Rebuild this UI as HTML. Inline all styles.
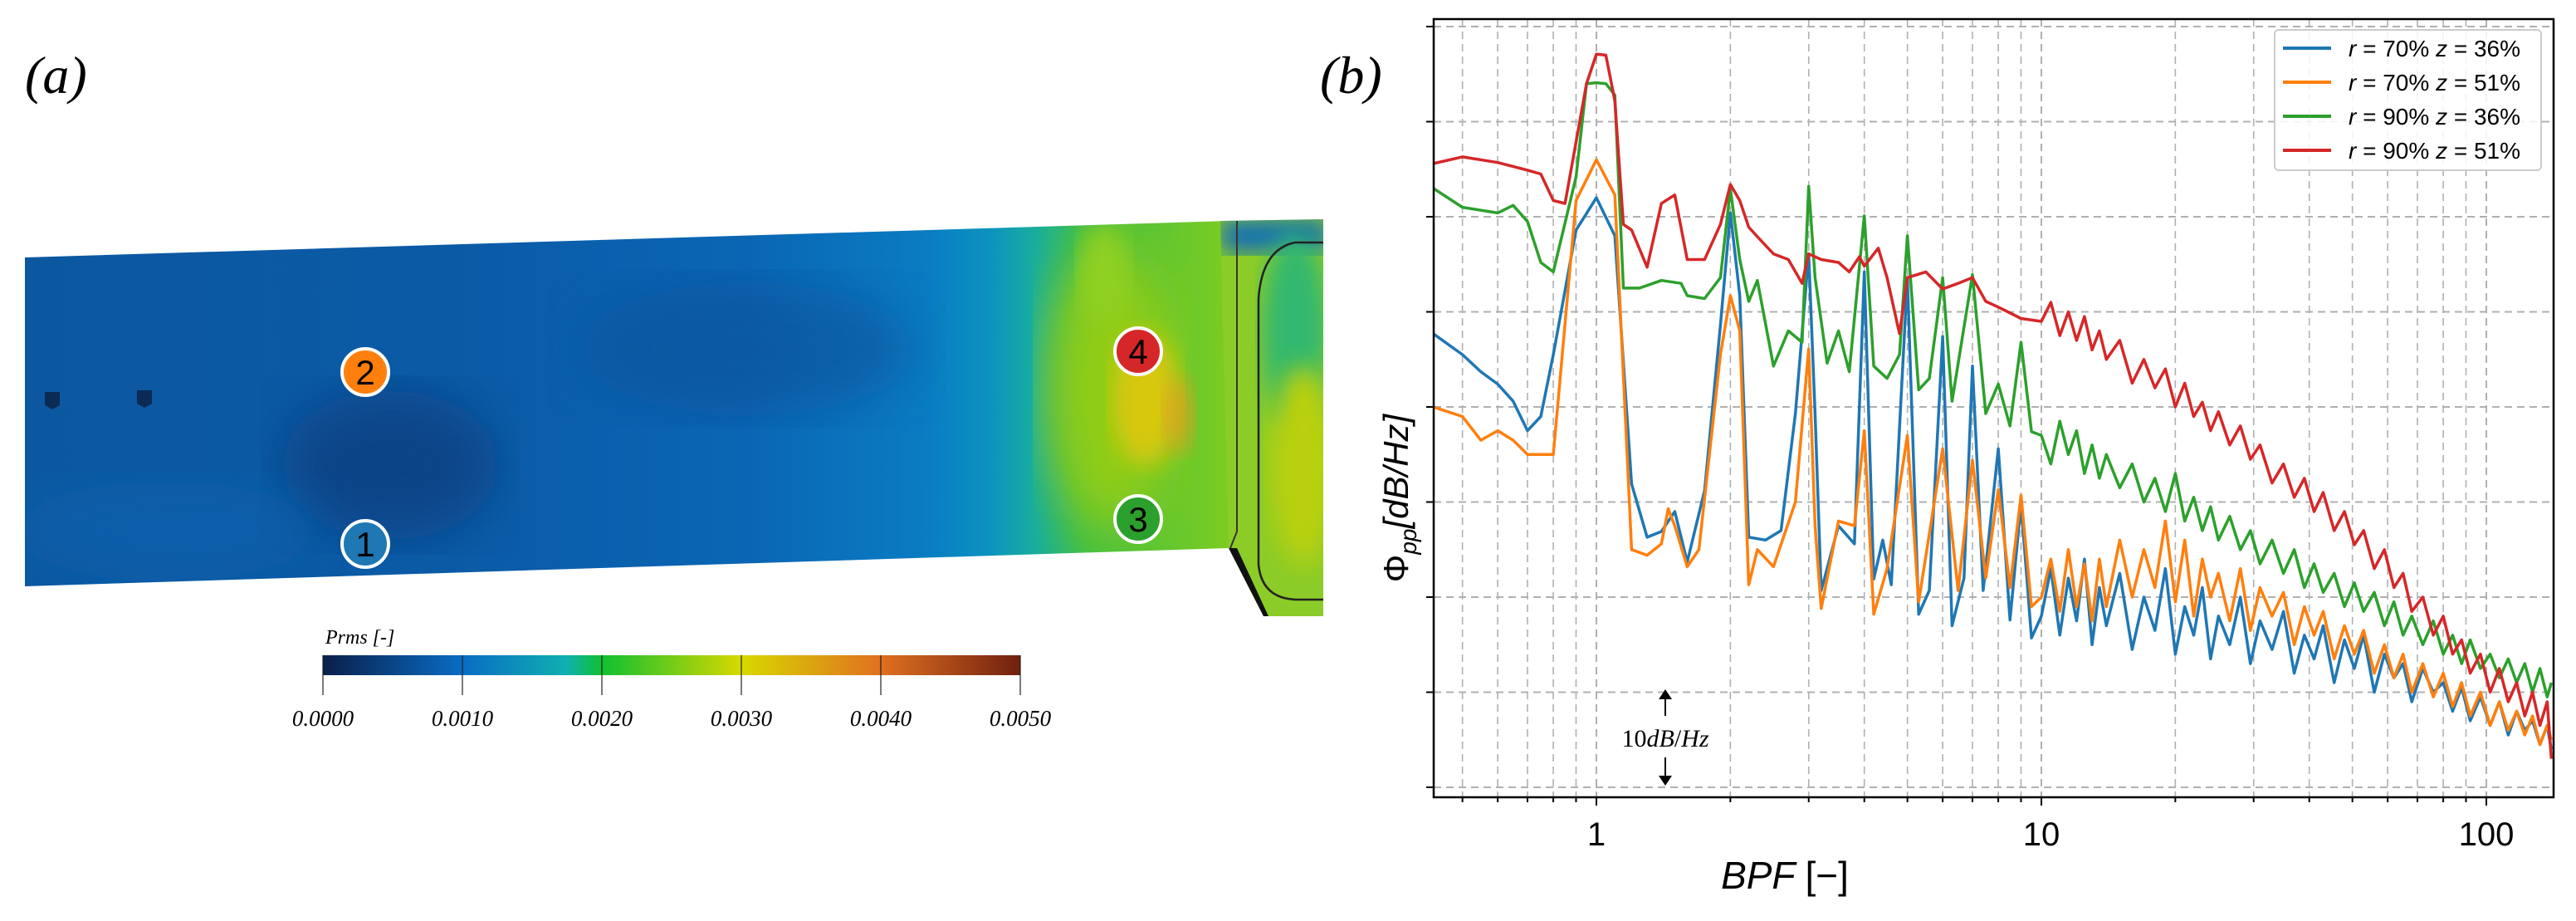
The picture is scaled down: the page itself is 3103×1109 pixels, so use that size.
<!DOCTYPE html>
<html><head><meta charset="utf-8"><style>
html,body{margin:0;padding:0;background:#fff;}
svg{display:block;}
text{font-family:"Liberation Sans",sans-serif;}
text.serif, .serif text{font-family:"Liberation Serif",serif;}
</style></head><body>
<svg id="root" width="3103" height="1109" viewBox="0 0 3103 1109" xmlns="http://www.w3.org/2000/svg">
<defs>
  <linearGradient id="bladeGrad" x1="30" y1="0" x2="1480" y2="0" gradientUnits="userSpaceOnUse">
    <stop offset="0" stop-color="#0c58a0"/>
    <stop offset="0.35" stop-color="#0b5aa6"/>
    <stop offset="0.6" stop-color="#0a66b4"/>
    <stop offset="0.75" stop-color="#0a7cc2"/>
    <stop offset="0.8" stop-color="#0c92c0"/>
    <stop offset="0.84" stop-color="#18ae9c"/>
    <stop offset="0.88" stop-color="#40be48"/>
    <stop offset="1" stop-color="#7ccc20"/>
  </linearGradient>
  <linearGradient id="cbGrad" x1="0" y1="0" x2="1" y2="0">
    <stop offset="0" stop-color="#0a1f4a"/>
    <stop offset="0.2" stop-color="#0a6cc4"/>
    <stop offset="0.35" stop-color="#10b0b0"/>
    <stop offset="0.4" stop-color="#10c030"/>
    <stop offset="0.6" stop-color="#d8d800"/>
    <stop offset="0.8" stop-color="#e07020"/>
    <stop offset="1" stop-color="#702010"/>
  </linearGradient>
  <filter id="blur30"><feGaussianBlur stdDeviation="30"/></filter>
  <filter id="blur15"><feGaussianBlur stdDeviation="14"/></filter>
  <clipPath id="bladeClip"><polygon points="30,310 1480,266 1480,660 30,706"/></clipPath>
  <clipPath id="hubClip"><polygon points="1470,266 1594,264 1594,742 1522,742 1480,660"/></clipPath>
  <clipPath id="plotClip"><rect x="1727" y="23" width="1349" height="937"/></clipPath>
</defs>

<!-- Panel (a) -->
<text x="30" y="112" class="serif" style="font-family:'Liberation Serif',serif;font-style:italic;font-size:64px">(a)</text>
<g>
  <polygon points="30,310 1480,266 1480,660 30,706" fill="url(#bladeGrad)"/>
  <g clip-path="url(#bladeClip)">
    <ellipse cx="470" cy="560" rx="130" ry="90" fill="#083f80" filter="url(#blur30)" opacity="0.8"/>
    <ellipse cx="200" cy="640" rx="180" ry="60" fill="#0b63b0" filter="url(#blur30)" opacity="0.6"/>
    <ellipse cx="900" cy="420" rx="200" ry="80" fill="#0a4e96" filter="url(#blur30)" opacity="0.5"/>
    <ellipse cx="1340" cy="470" rx="80" ry="170" fill="#90cc18" filter="url(#blur30)"/>
    <ellipse cx="1380" cy="480" rx="40" ry="80" fill="#d8c810" filter="url(#blur15)"/>
    <ellipse cx="1420" cy="500" rx="18" ry="45" fill="#e89a20" filter="url(#blur15)" opacity="0.7"/>
    <ellipse cx="1330" cy="330" rx="30" ry="60" fill="#90d020" filter="url(#blur15)"/>
  </g>
  <polygon points="1470,266 1594,264 1594,742 1522,742 1480,660" fill="#8ccc28"/>
  <g clip-path="url(#hubClip)">
    <rect x="1470" y="264" width="130" height="40" fill="#0a6cb8" filter="url(#blur15)"/>
    <ellipse cx="1560" cy="400" rx="40" ry="120" fill="#30b870" filter="url(#blur15)"/>
    <ellipse cx="1570" cy="560" rx="40" ry="120" fill="#b8d010" filter="url(#blur15)"/>
  </g>
  <path d="M1594,292 L1560,292 Q1520,300 1516,360 L1516,680 Q1520,720 1560,722 L1594,722" fill="none" stroke="#222" stroke-width="2.5"/>
  <path d="M1490,266 L1490,640 L1482,660" fill="none" stroke="#333" stroke-width="2"/>
  <polygon points="1480,660 1522,742 1528,742 1490,660" fill="#111"/>
</g>
<polygon points="54,472 72,472 72,488 63,493 54,488" fill="#0b2a55"/>
<polygon points="165,470 183,470 183,486 174,491 165,486" fill="#0b2a55"/>

<g><circle cx="440" cy="448" r="28" fill="#ff7f0e" stroke="#fff" stroke-width="4"/><text x="440" y="463" font-size="42" text-anchor="middle">2</text></g>
<g><circle cx="440" cy="655" r="28" fill="#1f77b4" stroke="#fff" stroke-width="4"/><text x="440" y="670" font-size="42" text-anchor="middle">1</text></g>
<g><circle cx="1371" cy="423" r="28" fill="#d62728" stroke="#fff" stroke-width="4"/><text x="1371" y="438" font-size="42" text-anchor="middle">4</text></g>
<g><circle cx="1371" cy="625" r="28" fill="#2ca02c" stroke="#fff" stroke-width="4"/><text x="1371" y="640" font-size="42" text-anchor="middle">3</text></g>

<g>
  <text x="392" y="775" style="font-family:'Liberation Serif',serif;font-style:italic;font-size:24px">Prms [-]</text>
  <rect x="389" y="789" width="840" height="24" fill="url(#cbGrad)"/>
  <g id="cbTicks" stroke="#222" stroke-width="1.2"></g>
  <g id="cbLabels" style="font-family:'Liberation Serif',serif;font-style:italic;font-size:27px" text-anchor="middle"></g>
</g>

<!-- Panel (b) -->
<text x="1590" y="112" style="font-family:'Liberation Serif',serif;font-style:italic;font-size:64px">(b)</text>
<g id="chart">
  <g id="grid"></g>
  <g id="series" clip-path="url(#plotClip)"></g>
  <rect x="1727" y="23" width="1349" height="937" fill="none" stroke="#000" stroke-width="2.5"/>
  <g id="ticks"></g>
  <text x="2150" y="1070" font-size="46" font-style="italic" text-anchor="middle">BPF <tspan font-style="normal">[−]</tspan></text>
  <text transform="translate(1696,600) rotate(-90)" font-size="42" text-anchor="middle">Φ<tspan font-size="28" dy="10" font-style="italic">pp</tspan><tspan dy="-10" font-style="italic">[dB/Hz]</tspan></text>
  <g>
    <line x1="2006" y1="838" x2="2006" y2="862" stroke="#000" stroke-width="2"/>
    <polygon points="1998,842 2014,842 2006,830" fill="#000"/>
    <text x="2006" y="899" style="font-family:'Liberation Serif',serif;font-size:30px" text-anchor="middle">10<tspan font-style="italic">dB</tspan>/<tspan font-style="italic">Hz</tspan></text>
    <line x1="2006" y1="912" x2="2006" y2="938" stroke="#000" stroke-width="2"/>
    <polygon points="1998,934 2014,934 2006,946" fill="#000"/>
  </g>
  <g id="legend">
    <rect x="2740" y="36" width="321" height="169" rx="5" fill="#fff" fill-opacity="0.85" stroke="#ccc" stroke-width="2"/>
  </g>
</g>
</svg>
<script>
// ---- colorbar data ----
const cbTickValues = ["0.0000","0.0010","0.0020","0.0030","0.0040","0.0050"];

// ---- spectrum data ----
const hiF = [10,10.5,11,11.5,12,12.5,13,13.5,14,15,16,17,18,19,20,21,22,23,24,25,26.5,28,29.5,31,33,35,37,39,41,43,45.5,48,50.5,53,56,59,62,65,68,72,76,80,84,88,92,97,102,107,112,117,122,127,132,137,140];

const blueLowF = [0.43,0.5,0.55,0.6,0.65,0.7,0.75,0.8,0.9,1.0,1.1,1.2,1.3,1.4,1.5,1.6,1.75,1.9,2.0,2.1,2.2,2.4,2.6,2.8,3.0,3.1,3.2,3.5,3.8,4.0,4.2,4.4,4.6,5.0,5.3,5.6,6.0,6.3,6.7,7.0,7.4,8.0,8.5,9.0,9.5];
const blueLowV = [47.7,45.5,43.7,42.4,40.6,37.5,39,45.5,58.6,62,58,31.9,26.3,26.9,29,23.7,31.2,48.6,60.4,51.7,26.3,26,27,39.3,56.1,39.3,20.7,27.5,25.6,54.2,21.9,26,21.3,53.6,18.2,20.7,47.4,17,22,44.3,20.7,35.6,17.6,29.8,15.7];
const blueHiV = [18,23,16,22,17.5,24,15,21,17,22.5,14.5,20,16.5,23,14,19,16,21,13.5,18,15,20,13,17.5,14.5,18.5,12,16,13.5,17,11,15.5,12.5,16,10,14,11.5,13,9,12.5,10,11,8,10.5,7,9.5,6.5,9,5.5,8,6,7,4.5,6.5,4];

const orangeLowF = [0.43,0.5,0.55,0.6,0.65,0.7,0.8,0.9,1.0,1.1,1.2,1.3,1.4,1.45,1.5,1.6,1.7,1.9,2.0,2.1,2.2,2.3,2.5,2.8,3.0,3.1,3.2,3.5,3.8,4.0,4.2,4.5,5.0,5.3,6.0,6.5,7.0,7.5,8.0,8.5,9.0,9.5];
const orangeLowV = [40,39,36.5,37.5,36.5,35,35,61.7,66,62.3,25,24.4,25.6,29.3,27.5,23.2,25,45.5,51.7,48,21.3,25,23.2,30,46.1,27.5,18.8,28,27.5,37.5,18.2,23,37,19.5,35.6,20.7,34.4,22,31.3,21,30.7,19];
const orangeHiV = [20,24,18.5,25,19,23.5,17.5,24,19,26,20,25,21,28,19.5,26,18,24,20,22.5,17.5,23,16.5,21,18,20.5,15,19,16,18.5,13.5,17,14,16.5,12,15,11.5,14,10,13,9.5,12,8.5,11,7.5,10,6.5,9,6,8,5.5,7.5,4.5,6.5,5];

const greenLowF = [0.43,0.5,0.6,0.65,0.7,0.75,0.8,0.9,0.95,1.0,1.05,1.1,1.15,1.25,1.4,1.55,1.6,1.75,1.9,2.0,2.1,2.2,2.3,2.5,2.7,2.9,3.0,3.1,3.3,3.5,3.7,4.0,4.2,4.5,4.8,5.0,5.3,5.6,6.0,6.3,7.0,7.5,8.0,8.5,9.0,9.5];
const greenLowV = [63,61,60.4,61.2,59.5,55.2,54.2,64.2,74,74.1,74,72.8,52.5,52.5,53.3,53,51.7,51.4,53.6,62.9,55.5,51.1,53.3,44.3,48,46.8,63.2,53.6,44.6,48,43.7,60.1,44.3,43,45.5,58,41.8,43,53.6,40.6,53.9,39.3,42.4,38,46.8,37.4];
const greenHiV = [37,34,38.5,35,37.5,33,36,32.5,35,31.5,34,30,32.5,29,33,28,30.5,27,29.5,26,28.5,25,27,23.5,26,22.5,25,21,23.5,20.5,22.5,19,21.5,18.5,20.5,17,19.5,16,18,15,17.5,14,16,13,15.5,12.5,14,11.5,13.5,11,13,10,12.5,9.5,11];

const redLowF = [0.43,0.5,0.6,0.7,0.75,0.8,0.85,0.95,1.0,1.05,1.1,1.15,1.2,1.3,1.4,1.5,1.6,1.75,1.9,2.0,2.1,2.2,2.3,2.5,2.7,2.9,3.0,3.2,3.5,3.7,3.9,4.0,4.3,4.5,4.8,5.0,5.5,6.0,6.5,7.0,7.5,8.0,9.0];
const redLowV = [65.6,66.3,65.7,64.9,64.5,61.7,61.4,74,77.1,77,72.2,59.2,58.6,54.7,61.4,62.3,55.5,55.5,59.2,63.4,61.7,58.9,57.9,56.1,55.5,53,56.1,55.5,55.2,54.2,55.8,54.8,56.7,53.6,47.7,53.6,54.2,52.4,53,53.6,51.1,50.5,49.3];
const redHiV = [49,51,47.5,50,47,49.5,46,48,45,47,42.5,45,42,44,40,42.5,39,40.5,37.5,39.5,36,38,34.5,36,32,34,30.5,32.5,29,31,27,29,25.5,27,23,25,21,22.5,18.5,20,16,18,14,15.5,12,14,10,12.5,9,11,7.5,10,6.5,9,3];

const seriesR = ["70%","70%","90%","90%"];
const seriesZ = ["36%","51%","36%","51%"];
const seriesColors = ["#1f77b4","#ff7f0e","#2ca02c","#d62728"];
const xTickLabels = ["1","10","100"];
const xTickValues = [1,10,100];
const yGridValues = [0,10,20,30,40,50,60,70,80];

const NS = "http://www.w3.org/2000/svg";
function mk(tag, attrs, parent){ const e=document.createElementNS(NS,tag); for(const k in attrs) e.setAttribute(k,attrs[k]); parent.appendChild(e); return e; }

// colorbar
const cbT = document.getElementById('cbTicks'), cbL = document.getElementById('cbLabels');
cbTickValues.forEach((v,i)=>{
  const x = 389 + (parseFloat(v)/0.005)*840;
  const l = mk('line',{x1:x,y1:789,x2:x,y2:837},cbT);
  
  
  const t = mk('text',{x:x,y:874,style:"font-family:'Liberation Serif',serif;font-style:italic;font-size:27px"},cbL);
  t.textContent = v;
  
  
});

// axes
const X0=1727, X1=3076, Y0=23, Y1=960;
function xs(f){ return 1923 + 536*Math.log10(f); }
function ys(db){ return 948 - db*11.45; }

const grid = document.getElementById('grid'), ticks = document.getElementById('ticks');
yGridValues.forEach(v=>{
  const y=ys(v);
  const g = mk('line',{x1:X0,y1:y,x2:X1,y2:y,stroke:'#b0b0b0','stroke-width':2,'stroke-dasharray':'9,6'},grid);
  
  
  const t = mk('line',{x1:X0-9,y1:y,x2:X0,y2:y,stroke:'#000','stroke-width':2},ticks);
  
  
});
[0.5,0.6,0.7,0.8,0.9,1,2,3,4,5,6,7,8,9,10,20,30,40,50,60,70,80,90,100].forEach(f=>{
  const x=xs(f); if(x<X0||x>X1) return;
  const major = xTickValues.indexOf(f)>=0;
  const g = mk('line',{x1:x,y1:Y0,x2:x,y2:Y1,stroke:'#b0b0b0','stroke-width':major?2:1.6,'stroke-dasharray':'9,6'},grid);
  
  
  const t = mk('line',{x1:x,y1:Y1,x2:x,y2:Y1+(major?10:6),stroke:'#000','stroke-width':2},ticks);
  
  
});
xTickValues.forEach((v,i)=>{
  const t = mk('text',{x:xs(v),y:1018,'font-size':40,'text-anchor':'middle'},ticks);
  t.textContent = xTickLabels[i];
  
  
});

// series
const seriesData = [
  [blueLowF.concat(hiF), blueLowV.concat(blueHiV)],
  [orangeLowF.concat(hiF), orangeLowV.concat(orangeHiV)],
  [greenLowF.concat(hiF), greenLowV.concat(greenHiV)],
  [redLowF.concat(hiF), redLowV.concat(redHiV)]
];
const sg = document.getElementById('series');
[0,1,2,3].forEach(i=>{
  const [F,V]=seriesData[i];
  const pts = F.map((f,k)=>xs(f).toFixed(1)+','+ys(V[k]).toFixed(1)).join(' ');
  const p = mk('polyline',{points:pts,fill:'none',stroke:seriesColors[i],'stroke-width':3.5,'stroke-linejoin':'round'},sg);
  
  
});

// legend
const lg = document.getElementById('legend');
seriesR.forEach((r,i)=>{
  const y = 58 + i*41;
  const l = mk('line',{x1:2750,y1:y,x2:2808,y2:y,stroke:seriesColors[i],'stroke-width':4},lg);
  
  
  const t = mk('text',{x:2829,y:y+10,'font-size':28},lg);
  const a = mk('tspan',{'font-style':'italic'},t); a.textContent='r';
  const b = mk('tspan',{},t); b.textContent=' = '+r+' ';
  const c = mk('tspan',{'font-style':'italic'},t); c.textContent='z';
  const d = mk('tspan',{},t); d.textContent=' = '+seriesZ[i];
  
  
});
</script>
</body></html>
